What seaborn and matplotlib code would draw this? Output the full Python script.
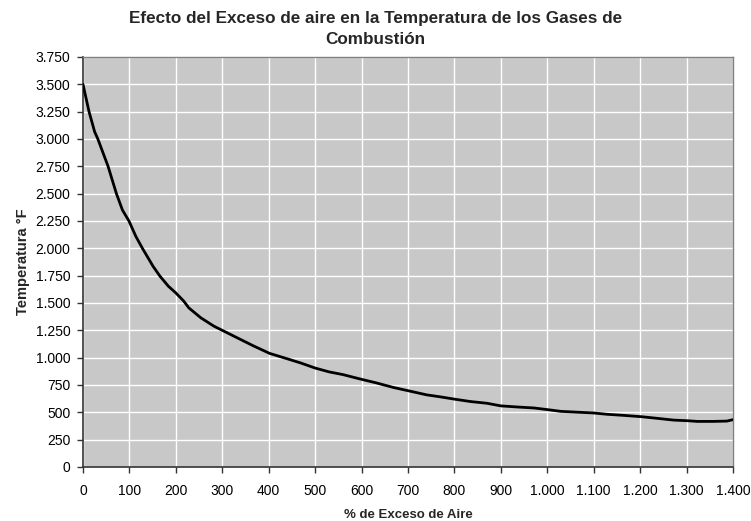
import matplotlib
matplotlib.use("Agg")
import matplotlib.pyplot as plt
import matplotlib.ticker as mticker
import seaborn as sns
import pandas as pd

exceso_aire = [0, 13, 25, 32, 54, 72, 85, 99, 114, 128, 151, 166, 184, 200, 217, 228,
               254, 282, 300, 332, 368, 402, 439, 470, 500, 530, 560, 596, 632, 668, 701,
               740, 769, 801, 834, 870, 900, 935, 971, 1000, 1029, 1057, 1100, 1129, 1165,
               1203, 1237, 1272, 1303, 1323, 1358, 1387, 1400]
temperatura = [3500, 3250, 3067, 3000, 2750, 2500, 2350, 2250, 2108, 2000, 1835, 1744,
               1653, 1592, 1517, 1455, 1364, 1288, 1250, 1182, 1106, 1039, 991, 950, 905,
               870, 845, 806, 769, 728, 697, 660, 642, 620, 599, 583, 559, 549, 540, 525,
               509, 503, 494, 482, 472, 460, 445, 429, 423, 417, 417, 420, 433]

x_ticks = list(range(0, 1401, 100))
y_ticks = list(range(0, 3751, 250))

titulo = "Efecto del Exceso de aire en la Temperatura de los Gases de\nCombustión"
x_label = "% de Exceso de Aire"
y_label = "Temperatura °F"

sns.set_theme(style="whitegrid")
plt.rcParams["font.family"] = ["Liberation Sans", "DejaVu Sans"]

df = pd.DataFrame({"x": exceso_aire, "y": temperatura})

fig = plt.figure(figsize=(7.51, 5.21), dpi=100)
ax = fig.add_axes([83 / 751, 1 - 467 / 521, 650 / 751, 410 / 521])
ax.set_facecolor("#c8c8c8")

sns.lineplot(data=df, x="x", y="y", ax=ax, color="black", linewidth=2.0, zorder=3)

ax.set_xlim(0, 1400)
ax.set_ylim(0, 3750)
ax.set_xticks(x_ticks)
ax.set_yticks(y_ticks)
fmt = mticker.FuncFormatter(lambda v, p: f"{int(round(v)):,}".replace(",", "."))
ax.xaxis.set_major_formatter(fmt)
ax.yaxis.set_major_formatter(fmt)

ax.grid(True, color="white", linewidth=1.0)
ax.set_axisbelow(True)
for s in ["left", "bottom"]:
    ax.spines[s].set_color("#333333")
    ax.spines[s].set_linewidth(1.2)
for s in ["top", "right"]:
    ax.spines[s].set_color("#808080")
    ax.spines[s].set_linewidth(1.0)

ax.tick_params(axis="both", which="major", direction="out", length=4, width=1,
               color="#333333", labelsize=10, labelcolor="black",
               bottom=True, left=True)
ax.tick_params(axis="x", pad=8)
ax.tick_params(axis="y", pad=5)

ax.set_xlabel(x_label, fontsize=9.5, fontweight="bold", labelpad=8)
ax.set_ylabel(y_label, fontsize=10.5, fontweight="bold", labelpad=4)

fig.text(0.5, 1 - 29 / 521, titulo, ha="center", va="center",
         fontsize=12.3, fontweight="bold", linespacing=1.55)

fig.savefig("out.png", dpi=100)
